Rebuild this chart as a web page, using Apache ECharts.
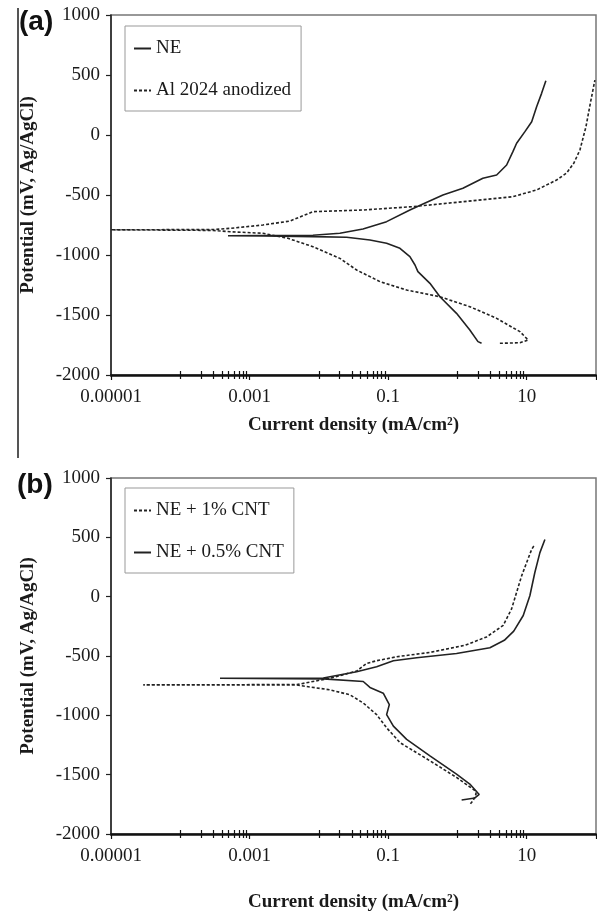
<!DOCTYPE html>
<html>
<head>
<meta charset="utf-8">
<title>Polarization curves</title>
<script src="https://cdn.jsdelivr.net/npm/echarts@6/dist/echarts.min.js"></script>
<style>
html, body { margin: 0; padding: 0; background: #fff; }
#chart { width: 597px; height: 913px; }
</style>
</head>
<body>
<div id="chart"></div>
<script>
// [current density (mA/cm2), potential (mV)] in drawing order
var neData = [[2.23,-1736],[1.98,-1722],[1.51,-1625],[0.97,-1486],[0.559,-1348],[0.401,-1236],[0.269,-1139],
  [0.244,-1083],[0.206,-1014],[0.148,-944],[0.095,-902],[0.0546,-875],[0.0252,-852],[0.00822,-847],
  [0.00156,-842],[0.000488,-840],[0.00156,-838],[0.00822,-835],[0.0201,-819],[0.0433,-783],[0.095,-722],
  [0.206,-625],[0.318,-575],[0.618,-500],[1.20,-444],[2.33,-361],[3.68,-333],[5.13,-250],[6.32,-139],
  [7.15,-69],[9.42,28],[11.8,111],[13.9,236],[16.4,347],[18.9,453]];
var alData = [[4.10,-1736],[7.98,-1731],[10.5,-1708],[7.98,-1639],[3.68,-1528],[1.51,-1431],[0.559,-1348],
  [0.185,-1292],[0.0762,-1222],[0.0351,-1125],[0.0201,-1028],[0.00822,-931],[0.00358,-861],[0.00156,-819],
  [0.000521,-806],[0.0003,-795],[0.00001,-790],[0.0003,-788],[0.000521,-778],[0.00156,-750],[0.00383,-717],
  [0.00822,-639],[0.0433,-625],[0.228,-597],[1.20,-556],[6.32,-514],[13.9,-458],[27,-375],[37.7,-317],
  [48,-233],[58.6,-125],[71.5,67],[83,267],[96.4,458]];
var cnt1Data = [[1.54,-1746],[1.69,-1718],[1.86,-1662],[1.79,-1634],[0.97,-1523],[0.401,-1383],[0.148,-1230],
  [0.0951,-1105],[0.0682,-994],[0.0437,-896],[0.0281,-827],[0.01445,-785],[0.00667,-757],[0.00483,-745],
  [0.0000292,-743],[0.00483,-741],[0.0082,-715],[0.0145,-688],[0.0351,-627],[0.049,-562],[0.0682,-540],
  [0.133,-506],[0.401,-470],[1.3,-409],[2.64,-339],[4.58,-242],[6.05,-103],[7.15,37],[8.44,175],
  [9.97,287],[11.8,399],[13.1,440]];
var cnt05Data = [[1.15,-1713],[1.79,-1696],[2.06,-1667],[1.51,-1579],[0.97,-1495],[0.401,-1342],[0.185,-1203],
  [0.119,-1091],[0.0951,-994],[0.104,-910],[0.085,-813],[0.0546,-765],[0.0437,-715],[0.0116,-693],
  [0.000374,-688],[0.0116,-686],[0.0351,-632],[0.0682,-590],[0.119,-540],[0.258,-515],[0.97,-479],
  [2.94,-430],[4.75,-368],[6.5,-290],[8.91,-159],[11.1,8],[13.1,204],[15.5,371],[18.3,482]];

var legendA = ['NE', 'Al 2024 anodized'];
var legendB = ['NE + 1% CNT', 'NE + 0.5% CNT'];
var xLabelValues = [0.00001, 0.001, 0.1, 10];
var xLabelText = ['0.00001', '0.001', '0.1', '10'];
var xMajorTicks = [0.00001, 0.001, 0.1, 10, 100];
var xMinorTicks = [0.0001, 0.0002, 0.0003, 0.0004, 0.0005, 0.0006, 0.0007, 0.0008, 0.0009,
  0.01, 0.02, 0.03, 0.04, 0.05, 0.06, 0.07, 0.08, 0.09,
  1, 2, 3, 4, 5, 6, 7, 8, 9];

var serif = 'Liberation Serif';
var ink = '#1a1a1a';

function xAxes(g, gap) {
  var base = {
    type: 'log', gridIndex: g, min: 0.00001, max: 100, position: 'bottom',
    splitLine: { show: false }
  };
  return [
    Object.assign({}, base, {
      axisLine: { onZero: false, lineStyle: { color: '#111', width: 2.5 } },
      axisTick: { customValues: xMajorTicks, length: 5, lineStyle: { color: '#111', width: 1.2 } },
      axisLabel: {
        customValues: xLabelValues, margin: 13, fontFamily: serif, fontSize: 19, color: ink,
        formatter: function (v) {
          for (var i = 0; i < xLabelValues.length; i++) {
            if (Math.abs(Math.log10(v) - Math.log10(xLabelValues[i])) < 0.01) return xLabelText[i];
          }
          return '';
        }
      },
      name: 'Current density (mA/cm²)', nameLocation: 'middle', nameGap: gap,
      nameTextStyle: { fontFamily: serif, fontWeight: 'bold', fontSize: 19, color: ink }
    }),
    Object.assign({}, base, {
      axisLine: { show: false, onZero: false }, axisLabel: { show: false },
      axisTick: { customValues: xMinorTicks, inside: true, length: 4, lineStyle: { color: '#111', width: 1.2 } }
    }),
    Object.assign({}, base, {
      axisLine: { show: false, onZero: false }, axisLabel: { show: false },
      axisTick: { customValues: xMinorTicks, length: 4, lineStyle: { color: '#111', width: 1.2 } }
    })
  ];
}

function yAxis(g) {
  return {
    type: 'value', gridIndex: g, min: -2000, max: 1000, interval: 500,
    splitLine: { show: false },
    axisLine: { show: true, onZero: false, lineStyle: { color: '#222', width: 1.5 } },
    axisTick: { show: true, length: 5, lineStyle: { color: '#222', width: 1.2 } },
    axisLabel: {
      margin: 11, fontFamily: serif, fontSize: 19, color: ink,
      formatter: function (v) { return String(v); }
    },
    name: 'Potential (mV, Ag/AgCl)', nameLocation: 'middle', nameGap: 73,
    nameTextStyle: { fontFamily: serif, fontWeight: 'bold', fontSize: 19, color: ink }
  };
}

function curve(name, data, xi, yi, dashed) {
  return {
    name: name, type: 'line', data: data, xAxisIndex: xi, yAxisIndex: yi,
    symbol: 'none', showSymbol: false, color: '#222',
    lineStyle: { color: '#222', width: 1.6, type: dashed ? [3, 2] : 'solid' }
  };
}

function legend(names, top) {
  return {
    data: names, orient: 'vertical', left: 125, top: top, selectedMode: false,
    itemWidth: 17, itemHeight: 20, itemGap: 23, padding: [13, 10, 11, 8],
    borderColor: '#999', borderWidth: 1, backgroundColor: '#fff',
    itemStyle: { color: 'transparent', borderWidth: 0, opacity: 0 },
    textStyle: { fontFamily: serif, fontSize: 19, color: ink }
  };
}

var chart = echarts.init(document.getElementById('chart'));
chart.setOption({
  animation: false,
  backgroundColor: '#fff',
  grid: [
    { left: 111, top: 15, width: 485, height: 360, show: true, borderColor: '#777', borderWidth: 1.5 },
    { left: 111, top: 478, width: 485, height: 359, show: true, borderColor: '#777', borderWidth: 1.5 }
  ],
  xAxis: xAxes(0, 41).concat(xAxes(1, 59)),
  yAxis: [yAxis(0), yAxis(1)],
  legend: [legend(legendA, 26), legend(legendB, 488)],
  series: [
    curve('NE', neData, 0, 0, false),
    curve('Al 2024 anodized', alData, 0, 0, true),
    curve('NE + 1% CNT', cnt1Data, 3, 1, true),
    curve('NE + 0.5% CNT', cnt05Data, 3, 1, false)
  ],
  graphic: [
    { type: 'line', shape: { x1: 18, y1: 8, x2: 18, y2: 458 }, style: { stroke: '#555', lineWidth: 2 } },
    { type: 'text', left: 19, top: 8, style: { text: '(a)', font: 'bold 28px "Liberation Sans"', fill: '#111' } },
    { type: 'text', left: 17, top: 471, style: { text: '(b)', font: 'bold 28px "Liberation Sans"', fill: '#111' } }
  ]
});
</script>
</body>
</html>
